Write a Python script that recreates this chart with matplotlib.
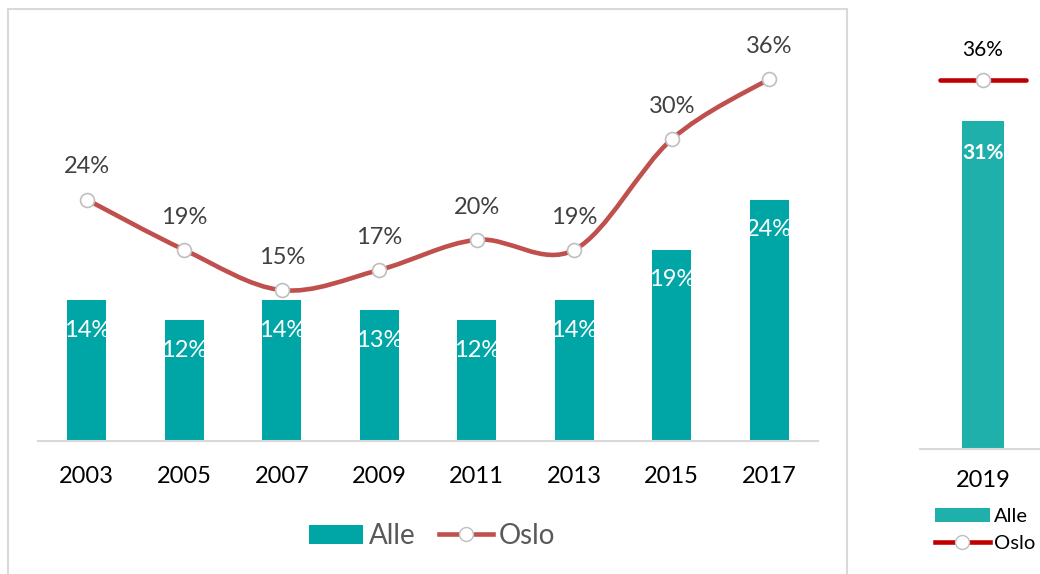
import matplotlib

matplotlib.use("Agg")
import matplotlib.pyplot as plt
from matplotlib.lines import Line2D
from matplotlib.patches import Patch, PathPatch, Rectangle
from matplotlib.path import Path

years = ["2003", "2005", "2007", "2009", "2011", "2013", "2015", "2017"]
alle = [14, 12, 14, 13, 12, 14, 19, 24]
oslo = [24, 19, 15, 17, 20, 19, 30, 36]

year_2019 = ["2019"]
alle_2019 = [31]
oslo_2019 = [36]

TEAL = "#00A6A6"
TEAL_LIGHT = "#20B0AC"
RED = "#C0504D"
DARK_RED = "#C00000"
GRID = "#D9D9D9"
FONT = "Lato"

plt.rcParams["font.family"] = [FONT, "DejaVu Sans"]


def smooth_path(xs, ys):
    # Excel-style smoothed line: cubic Bezier segments with Catmull-Rom tangents
    pts = list(zip(xs, ys))
    verts = [pts[0]]
    codes = [Path.MOVETO]
    n = len(pts)
    for i in range(n - 1):
        p0 = pts[i - 1] if i > 0 else pts[i]
        p1 = pts[i]
        p2 = pts[i + 1]
        p3 = pts[i + 2] if i + 2 < n else pts[i + 1]
        c1 = (p1[0] + (p2[0] - p0[0]) / 6, p1[1] + (p2[1] - p0[1]) / 6)
        c2 = (p2[0] - (p3[0] - p1[0]) / 6, p2[1] - (p3[1] - p1[1]) / 6)
        verts += [c1, c2, p2]
        codes += [Path.CURVE4] * 3
    return Path(verts, codes)


def style_axis(ax):
    for side in ["top", "right", "left"]:
        ax.spines[side].set_visible(False)
    ax.spines["bottom"].set_color(GRID)
    ax.spines["bottom"].set_linewidth(1.5)
    ax.set_yticks([])
    ax.tick_params(axis="x", length=0)


W, H = 1040, 574
fig = plt.figure(figsize=(W / 100, H / 100), dpi=100)

# panel frame around the main chart
fig.patches.append(
    Rectangle((8 / W, -0.05), (847 - 8) / W, 1 - 9 / H + 0.05,
              transform=fig.transFigure, fill=False, edgecolor=GRID, lw=1.5)
)

# main chart
ax = fig.add_axes([38 / W, (H - 441) / H, 780 / W, 402.4 / H])
x = list(range(len(years)))
ax.bar(x, alle, width=0.4, color=TEAL, zorder=2)
ax.add_patch(PathPatch(smooth_path(x, oslo), fill=False, edgecolor=RED, lw=3.3,
                       capstyle="round", zorder=3))
ax.plot(x, oslo, ls="none", marker="o", ms=10, mfc="white", mec="#BFBFBF",
        mew=1.2, zorder=4)
ax.set_xlim(-0.5, len(years) - 0.5)
ax.set_ylim(0, 40)
style_axis(ax)
ax.set_xticks(x, years, fontsize=17, color="black")
ax.tick_params(axis="x", pad=18)

for xi, a, o in zip(x, alle, oslo):
    ax.annotate(f"{a}%", (xi, a), xytext=(0, -21.5), textcoords="offset points",
                ha="center", va="center", fontsize=17, color="white", zorder=5)
    ax.annotate(f"{o}%", (xi, o), xytext=(0, 23.5), textcoords="offset points",
                ha="center", va="center", fontsize=17, color="#404040", zorder=5)

handles = [
    Patch(facecolor=TEAL, edgecolor="none"),
    Line2D([], [], color=RED, lw=3.3, marker="o", ms=10, mfc="white", mec="#BFBFBF"),
]
fig.legend(handles, ["Alle", "Oslo"], loc="center", ncol=2,
           bbox_to_anchor=(432 / W, 1 - 536 / H), frameon=False, fontsize=20,
           handlelength=1.95, handleheight=0.7, handletextpad=0.2,
           columnspacing=0.85, labelcolor="#595959")

# 2019 panel
ax2 = fig.add_axes([920 / W, (H - 449) / H, 126 / W, 423 / H])
ax2.bar([0], alle_2019, width=0.34, color=TEAL_LIGHT, zorder=2)
ax2.set_xlim(-0.5, 0.5)
ax2.set_ylim(0, 40)
style_axis(ax2)
ax2.set_xticks([0], year_2019, fontsize=17, color="black")
ax2.tick_params(axis="x", pad=15)
ax2.annotate(f"{alle_2019[0]}%", (0, alle_2019[0]), xytext=(0, -23),
             textcoords="offset points", ha="center", va="center",
             fontsize=15, fontweight="bold", color="white")

ax3 = ax2.twinx()
ax3.set_ylim(0, 41.3)
ax3.axis("off")
ax3.hlines(oslo_2019, -0.345, 0.345, color=DARK_RED, lw=3.3, capstyle="round")
ax3.plot([0], oslo_2019, ls="none", marker="o", ms=10, mfc="white",
         mec="#BFBFBF", mew=1.2)
ax3.annotate(f"{oslo_2019[0]}%", (0, oslo_2019[0]), xytext=(0, 22),
             textcoords="offset points", ha="center", va="center",
             fontsize=15, color="black")

handles2 = [
    Patch(facecolor=TEAL_LIGHT, edgecolor="none"),
    Line2D([], [], color=DARK_RED, lw=3.3, marker="o", ms=10, mfc="white", mec="#BFBFBF"),
]
fig.legend(handles2, ["Alle", "Oslo"], loc="center", ncol=1,
           bbox_to_anchor=(985 / W, 1 - 530 / H), frameon=False, fontsize=14.5,
           handlelength=2.7, handleheight=0.7, handletextpad=0.2,
           labelspacing=0.5, borderpad=0, labelcolor="black")

fig.savefig("out.png", dpi=100)
